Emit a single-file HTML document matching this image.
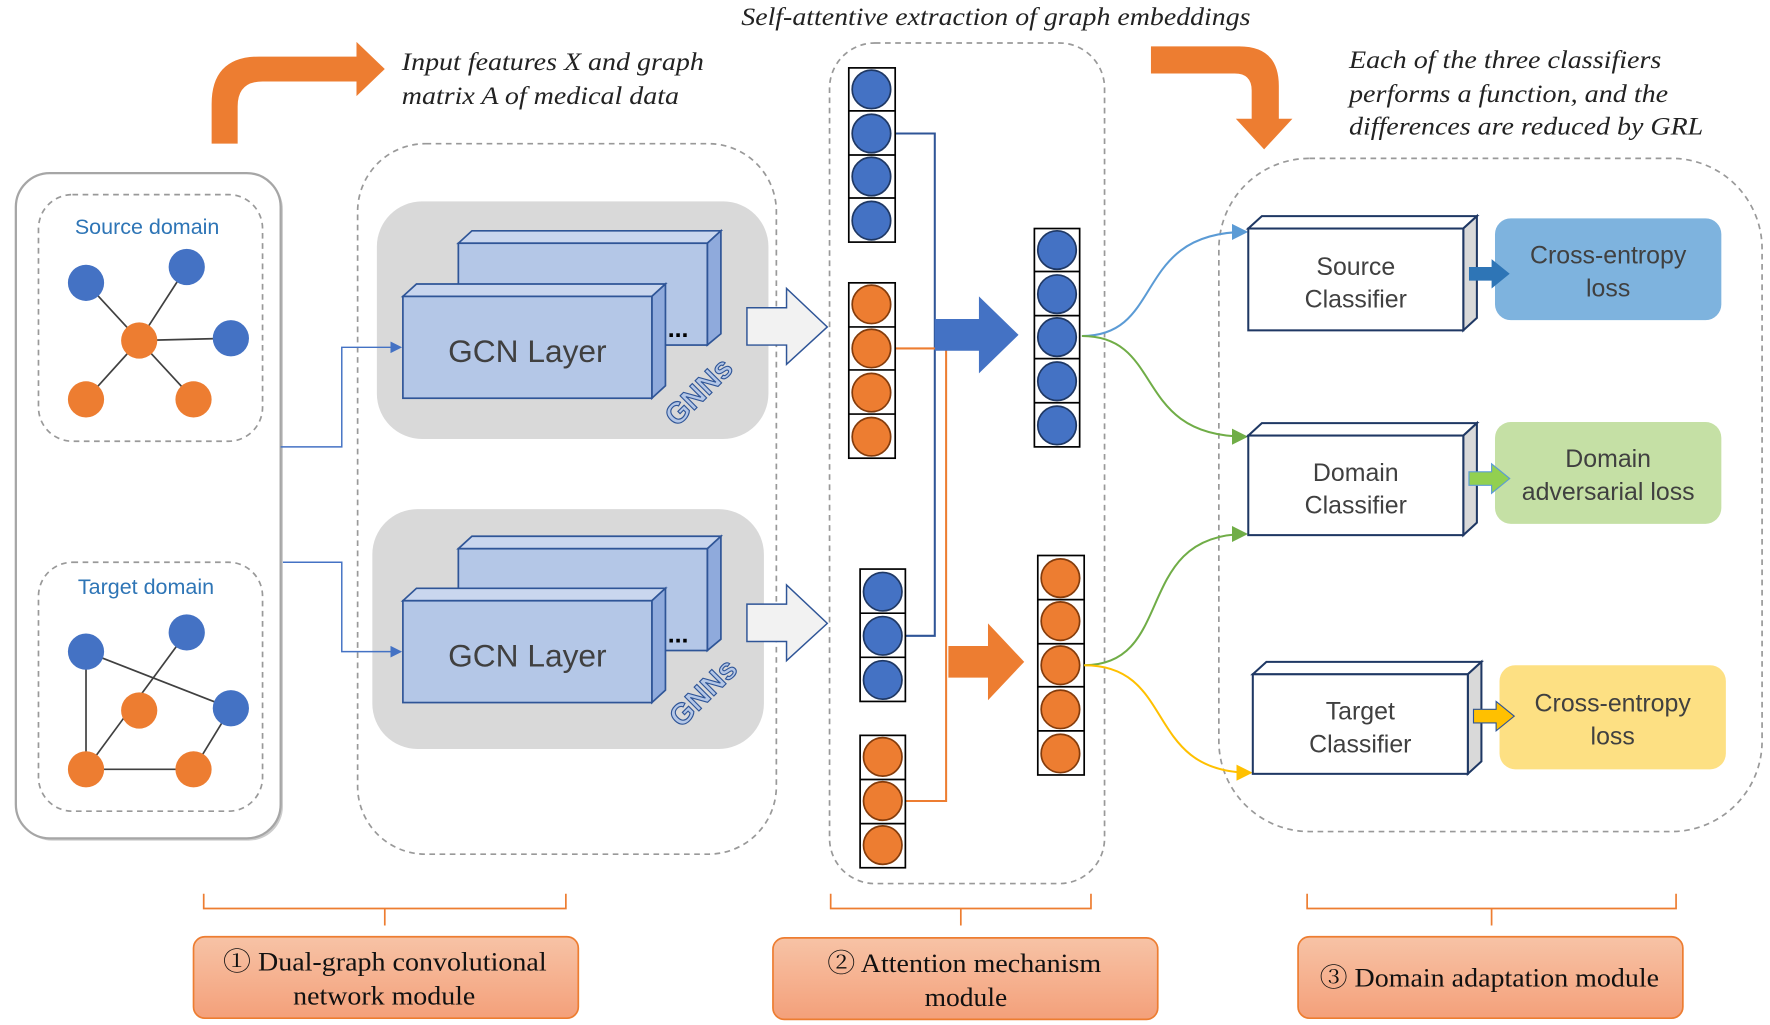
<!DOCTYPE html>
<html><head><meta charset="utf-8"><style>html,body{margin:0;padding:0;background:#fff}svg{display:block}</style></head><body>
<svg width="1770" height="1025" viewBox="0 0 1564 906" preserveAspectRatio="none" xmlns="http://www.w3.org/2000/svg">
<defs>
<marker id="ab" markerWidth="8" markerHeight="8" refX="7" refY="4" orient="auto"><path d="M0,0 L8,4 L0,8 z" fill="#4472c4"/></marker>
<marker id="ab2" markerWidth="8" markerHeight="8" refX="7" refY="4" orient="auto"><path d="M0,0 L8,4 L0,8 z" fill="#5b9bd5"/></marker>
<marker id="ag" markerWidth="8" markerHeight="8" refX="7" refY="4" orient="auto"><path d="M0,0 L8,4 L0,8 z" fill="#70ad47"/></marker>
<marker id="ay" markerWidth="8" markerHeight="8" refX="7" refY="4" orient="auto"><path d="M0,0 L8,4 L0,8 z" fill="#ffc000"/></marker>
<linearGradient id="og" x1="0" y1="0" x2="0" y2="1"><stop offset="0" stop-color="#f7c3a6"/><stop offset="1" stop-color="#f4a07a"/></linearGradient>
</defs>
<g font-family="Liberation Sans, sans-serif">
<rect x="16" y="155" width="234" height="588" rx="30" fill="#ccc"/>
<rect x="14" y="153" width="234" height="588" rx="30" fill="#fff" stroke="#a6a6a6" stroke-width="2"/>
<rect x="34" y="172" width="198" height="218" rx="30" fill="none" stroke="#999" stroke-width="1.5" stroke-dasharray="5,4"/>
<text x="130" y="207" font-size="19" fill="#2e75b6" text-anchor="middle">Source domain</text>
<g stroke="#404040" stroke-width="1.5"><line x1="123" y1="301" x2="76" y2="250"/><line x1="123" y1="301" x2="165" y2="236"/><line x1="123" y1="301" x2="204" y2="299"/><line x1="123" y1="301" x2="76" y2="353"/><line x1="123" y1="301" x2="171" y2="353"/></g>
<g fill="#4472c4"><circle cx="76" cy="250" r="16"/><circle cx="165" cy="236" r="16"/><circle cx="204" cy="299" r="16"/></g>
<g fill="#ed7d31"><circle cx="123" cy="301" r="16"/><circle cx="76" cy="353" r="16"/><circle cx="171" cy="353" r="16"/></g>
<rect x="34" y="497" width="198" height="220" rx="30" fill="none" stroke="#999" stroke-width="1.5" stroke-dasharray="5,4"/>
<text x="129" y="525" font-size="19" fill="#2e75b6" text-anchor="middle">Target domain</text>
<g stroke="#404040" stroke-width="1.5"><line x1="76" y1="576" x2="76" y2="680"/><line x1="76" y1="576" x2="204" y2="626"/><line x1="165" y1="559" x2="76" y2="680"/><line x1="76" y1="680" x2="171" y2="680"/><line x1="171" y1="680" x2="204" y2="626"/></g>
<g fill="#4472c4"><circle cx="76" cy="576" r="16"/><circle cx="165" cy="559" r="16"/><circle cx="204" cy="626" r="16"/></g>
<g fill="#ed7d31"><circle cx="123" cy="628" r="16"/><circle cx="76" cy="680" r="16"/><circle cx="171" cy="680" r="16"/></g>
<path d="M187,127 L187,92 Q187,50 229,50 L315,50 L315,37 L340,61 L315,85 L315,72 L232,72 Q210,72 210,94 L210,127 Z" fill="#ed7d31"/>
<g font-family="Liberation Serif, serif" font-style="italic" font-size="22" fill="#222">
<text x="355" y="62" textLength="267" lengthAdjust="spacingAndGlyphs">Input features X and graph</text><text x="355" y="92" textLength="245" lengthAdjust="spacingAndGlyphs">matrix A of medical data</text>
<text x="655" y="22" textLength="450" lengthAdjust="spacingAndGlyphs">Self-attentive extraction of graph embeddings</text>
<text x="1192" y="60" textLength="276" lengthAdjust="spacingAndGlyphs">Each of the three classifiers</text><text x="1192" y="90" textLength="282" lengthAdjust="spacingAndGlyphs">performs a function, and the</text><text x="1192" y="119" textLength="313" lengthAdjust="spacingAndGlyphs">differences are reduced by GRL</text>
</g>
<rect x="316" y="127" width="370" height="628" rx="60" fill="none" stroke="#999" stroke-width="1.5" stroke-dasharray="5,4"/>
<rect x="333" y="178" width="346" height="210" rx="40" fill="#d9d9d9"/>
<rect x="329" y="450" width="346" height="212" rx="40" fill="#d9d9d9"/>
<g stroke="#2f5597" stroke-width="1.5">
<polygon points="405,215 625,215 637,204 417,204" fill="#c9d6ee"/><polygon points="625,215 637,204 637,295 625,305" fill="#8faadc"/><rect x="405" y="215" width="220" height="90" fill="#b4c7e7"/>
<polygon points="356,262 576,262 588,251 368,251" fill="#c9d6ee"/><polygon points="576,262 588,251 588,341 576,352" fill="#8faadc"/><rect x="356" y="262" width="220" height="90" fill="#b4c7e7"/>
<polygon points="405,485 625,485 637,474 417,474" fill="#c9d6ee"/><polygon points="625,485 637,474 637,565 625,575" fill="#8faadc"/><rect x="405" y="485" width="220" height="90" fill="#b4c7e7"/>
<polygon points="356,531 576,531 588,520 368,520" fill="#c9d6ee"/><polygon points="576,531 588,520 588,610 576,621" fill="#8faadc"/><rect x="356" y="531" width="220" height="90" fill="#b4c7e7"/>
</g>
<text x="466" y="320" font-size="28" fill="#404040" text-anchor="middle">GCN Layer</text>
<text x="466" y="589" font-size="28" fill="#404040" text-anchor="middle">GCN Layer</text>
<text x="590" y="298" font-size="22" fill="#000" font-weight="bold">...</text>
<text x="590" y="568" font-size="22" fill="#000" font-weight="bold">...</text>
<text x="0" y="0" font-size="26" font-weight="bold" fill="#b4c7e7" stroke="#2f5597" stroke-width="1" transform="translate(598,378) rotate(-45)">GNNs</text>
<text x="0" y="0" font-size="26" font-weight="bold" fill="#b4c7e7" stroke="#2f5597" stroke-width="1" transform="translate(602,644) rotate(-45)">GNNs</text>
<g fill="none" stroke="#4472c4" stroke-width="1.3"><path d="M248,395 H302 V307 H354" marker-end="url(#ab)"/><path d="M250,497 H302 V576 H354" marker-end="url(#ab)"/></g>
<g fill="#f2f2f2" stroke="#2f5597" stroke-width="1.3">
<polygon points="660,272 695,272 695,255 731,289 695,322 695,305 660,305"/>
<polygon points="660,534 695,534 695,517 731,551 695,584 695,567 660,567"/>
</g>
<rect x="733" y="38" width="243" height="743" rx="40" fill="none" stroke="#999" stroke-width="1.5" stroke-dasharray="5,4"/>
<g fill="none" stroke-width="1.8"><path d="M791,118 H826 V562 H800" stroke="#2f5597"/><path d="M791,308 H836 V708 H800" stroke="#ed7d31"/></g>
<polygon points="826,282 865,282 865,262 900,296 865,330 865,310 826,310" fill="#4472c4"/>
<polygon points="838,571 873,571 873,551 905,585 873,619 873,599 838,599" fill="#ed7d31"/>
<g stroke="#000" stroke-width="1.5">
<rect x="750" y="60" width="41" height="154" fill="#fff"/><line x1="750" y1="98" x2="791" y2="98"/><line x1="750" y1="137" x2="791" y2="137"/><line x1="750" y1="175" x2="791" y2="175"/>
<g fill="#4472c4" stroke="#1f3864"><circle cx="770" cy="79" r="17"/><circle cx="770" cy="118" r="17"/><circle cx="770" cy="156" r="17"/><circle cx="770" cy="195" r="17"/></g>
<rect x="750" y="250" width="41" height="155" fill="#fff"/><line x1="750" y1="289" x2="791" y2="289"/><line x1="750" y1="327" x2="791" y2="327"/><line x1="750" y1="366" x2="791" y2="366"/>
<g fill="#ed7d31" stroke="#843c0c"><circle cx="770" cy="269" r="17"/><circle cx="770" cy="308" r="17"/><circle cx="770" cy="347" r="17"/><circle cx="770" cy="386" r="17"/></g>
<rect x="760" y="503" width="40" height="117" fill="#fff"/><line x1="760" y1="542" x2="800" y2="542"/><line x1="760" y1="581" x2="800" y2="581"/>
<g fill="#4472c4" stroke="#1f3864"><circle cx="780" cy="523" r="17"/><circle cx="780" cy="562" r="17"/><circle cx="780" cy="601" r="17"/></g>
<rect x="760" y="650" width="40" height="117" fill="#fff"/><line x1="760" y1="689" x2="800" y2="689"/><line x1="760" y1="728" x2="800" y2="728"/>
<g fill="#ed7d31" stroke="#843c0c"><circle cx="780" cy="669" r="17"/><circle cx="780" cy="708" r="17"/><circle cx="780" cy="747" r="17"/></g>
<rect x="914" y="202" width="40" height="193" fill="#fff"/><line x1="914" y1="240" x2="954" y2="240"/><line x1="914" y1="279" x2="954" y2="279"/><line x1="914" y1="317" x2="954" y2="317"/><line x1="914" y1="356" x2="954" y2="356"/>
<g fill="#4472c4" stroke="#1f3864"><circle cx="934" cy="221" r="17"/><circle cx="934" cy="260" r="17"/><circle cx="934" cy="298" r="17"/><circle cx="934" cy="337" r="17"/><circle cx="934" cy="376" r="17"/></g>
<rect x="917" y="491" width="41" height="194" fill="#fff"/><line x1="917" y1="530" x2="958" y2="530"/><line x1="917" y1="569" x2="958" y2="569"/><line x1="917" y1="607" x2="958" y2="607"/><line x1="917" y1="646" x2="958" y2="646"/>
<g fill="#ed7d31" stroke="#843c0c"><circle cx="937" cy="511" r="17"/><circle cx="937" cy="549" r="17"/><circle cx="937" cy="588" r="17"/><circle cx="937" cy="627" r="17"/><circle cx="937" cy="666" r="17"/></g>
</g>
<path d="M1017,41 L1095,41 Q1130,41 1130,76 L1130,105 L1142,105 L1117,132 L1092,105 L1106,105 L1106,80 Q1106,65 1091,65 L1017,65 Z" fill="#ed7d31"/>
<rect x="1077" y="140" width="480" height="595" rx="80" fill="none" stroke="#999" stroke-width="1.5" stroke-dasharray="5,4"/>
<g fill="none" stroke-width="1.8">
<path d="M956,297 C1030,297 1000,205 1101,205" stroke="#5b9bd5" marker-end="url(#ab2)"/>
<path d="M956,297 C1030,297 1000,386 1101,386" stroke="#70ad47" marker-end="url(#ag)"/>
<path d="M958,588 C1040,588 1000,472 1101,472" stroke="#70ad47" marker-end="url(#ag)"/>
<path d="M958,588 C1040,588 1010,683 1105,683" stroke="#ffc000" marker-end="url(#ay)"/>
</g>
<g stroke="#1f3864" stroke-width="1.8">
<polygon points="1103,202 1293,202 1305,191 1115,191" fill="#fff"/><polygon points="1293,202 1305,191 1305,281 1293,292" fill="#d9d9d9"/><rect x="1103" y="202" width="190" height="90" fill="#fff"/>
<polygon points="1103,385 1293,385 1305,374 1115,374" fill="#fff"/><polygon points="1293,385 1305,374 1305,462 1293,473" fill="#d9d9d9"/><rect x="1103" y="385" width="190" height="88" fill="#fff"/>
<polygon points="1107,596 1297,596 1309,585 1119,585" fill="#fff"/><polygon points="1297,596 1309,585 1309,673 1297,684" fill="#d9d9d9"/><rect x="1107" y="596" width="190" height="88" fill="#fff"/>
</g>
<g font-size="22" fill="#404040" text-anchor="middle">
<text x="1198" y="243">Source</text><text x="1198" y="272">Classifier</text>
<text x="1198" y="425">Domain</text><text x="1198" y="454">Classifier</text>
<text x="1202" y="636">Target</text><text x="1202" y="665">Classifier</text>
</g>
<rect x="1321" y="193" width="200" height="90" rx="14" fill="#7eb3de"/>
<rect x="1321" y="373" width="200" height="90" rx="14" fill="#c5e0a5"/>
<rect x="1325" y="588" width="200" height="92" rx="14" fill="#fde083"/>
<g font-size="22" fill="#404040" text-anchor="middle">
<text x="1421" y="233">Cross-entropy</text><text x="1421" y="262">loss</text>
<text x="1421" y="413">Domain</text><text x="1421" y="442">adversarial loss</text>
<text x="1425" y="629">Cross-entropy</text><text x="1425" y="658">loss</text>
</g>
<polygon points="1298,236 1318,236 1318,229 1334,242 1318,255 1318,248 1298,248" fill="#2e75b6"/>
<polygon points="1298,417 1318,417 1318,410 1334,423 1318,436 1318,429 1298,429" fill="#92d050" stroke="#5b9bd5"/>
<polygon points="1302,627 1322,627 1322,620 1338,633 1322,646 1322,639 1302,639" fill="#ffc000" stroke="#2f5597"/>
<g fill="none" stroke="#ed7d31" stroke-width="1.5">
<path d="M180,790 V803 H500 V790 M340,803 V818"/>
<path d="M734,790 V803 H964 V790 M849,803 V818"/>
<path d="M1155,790 V803 H1481 V790 M1318,803 V818"/>
</g>
<g fill="url(#og)" stroke="#ed7d31" stroke-width="1.5">
<rect x="171" y="828" width="340" height="72" rx="10"/>
<rect x="683" y="829" width="340" height="72" rx="10"/>
<rect x="1147" y="828" width="340" height="72" rx="10"/>
</g>
<g font-family="Liberation Serif, 'Noto Serif CJK SC', serif" font-size="23" fill="#111">
<text x="197" y="858" textLength="286" lengthAdjust="spacingAndGlyphs">① Dual-graph convolutional</text><text x="259" y="888" textLength="161" lengthAdjust="spacingAndGlyphs">network module</text>
<text x="731" y="859" textLength="242" lengthAdjust="spacingAndGlyphs">② Attention mechanism</text><text x="817" y="889" textLength="73" lengthAdjust="spacingAndGlyphs">module</text>
<text x="1166" y="872" textLength="300" lengthAdjust="spacingAndGlyphs">③ Domain adaptation module</text>
</g>
</g>
</svg>
</body></html>
